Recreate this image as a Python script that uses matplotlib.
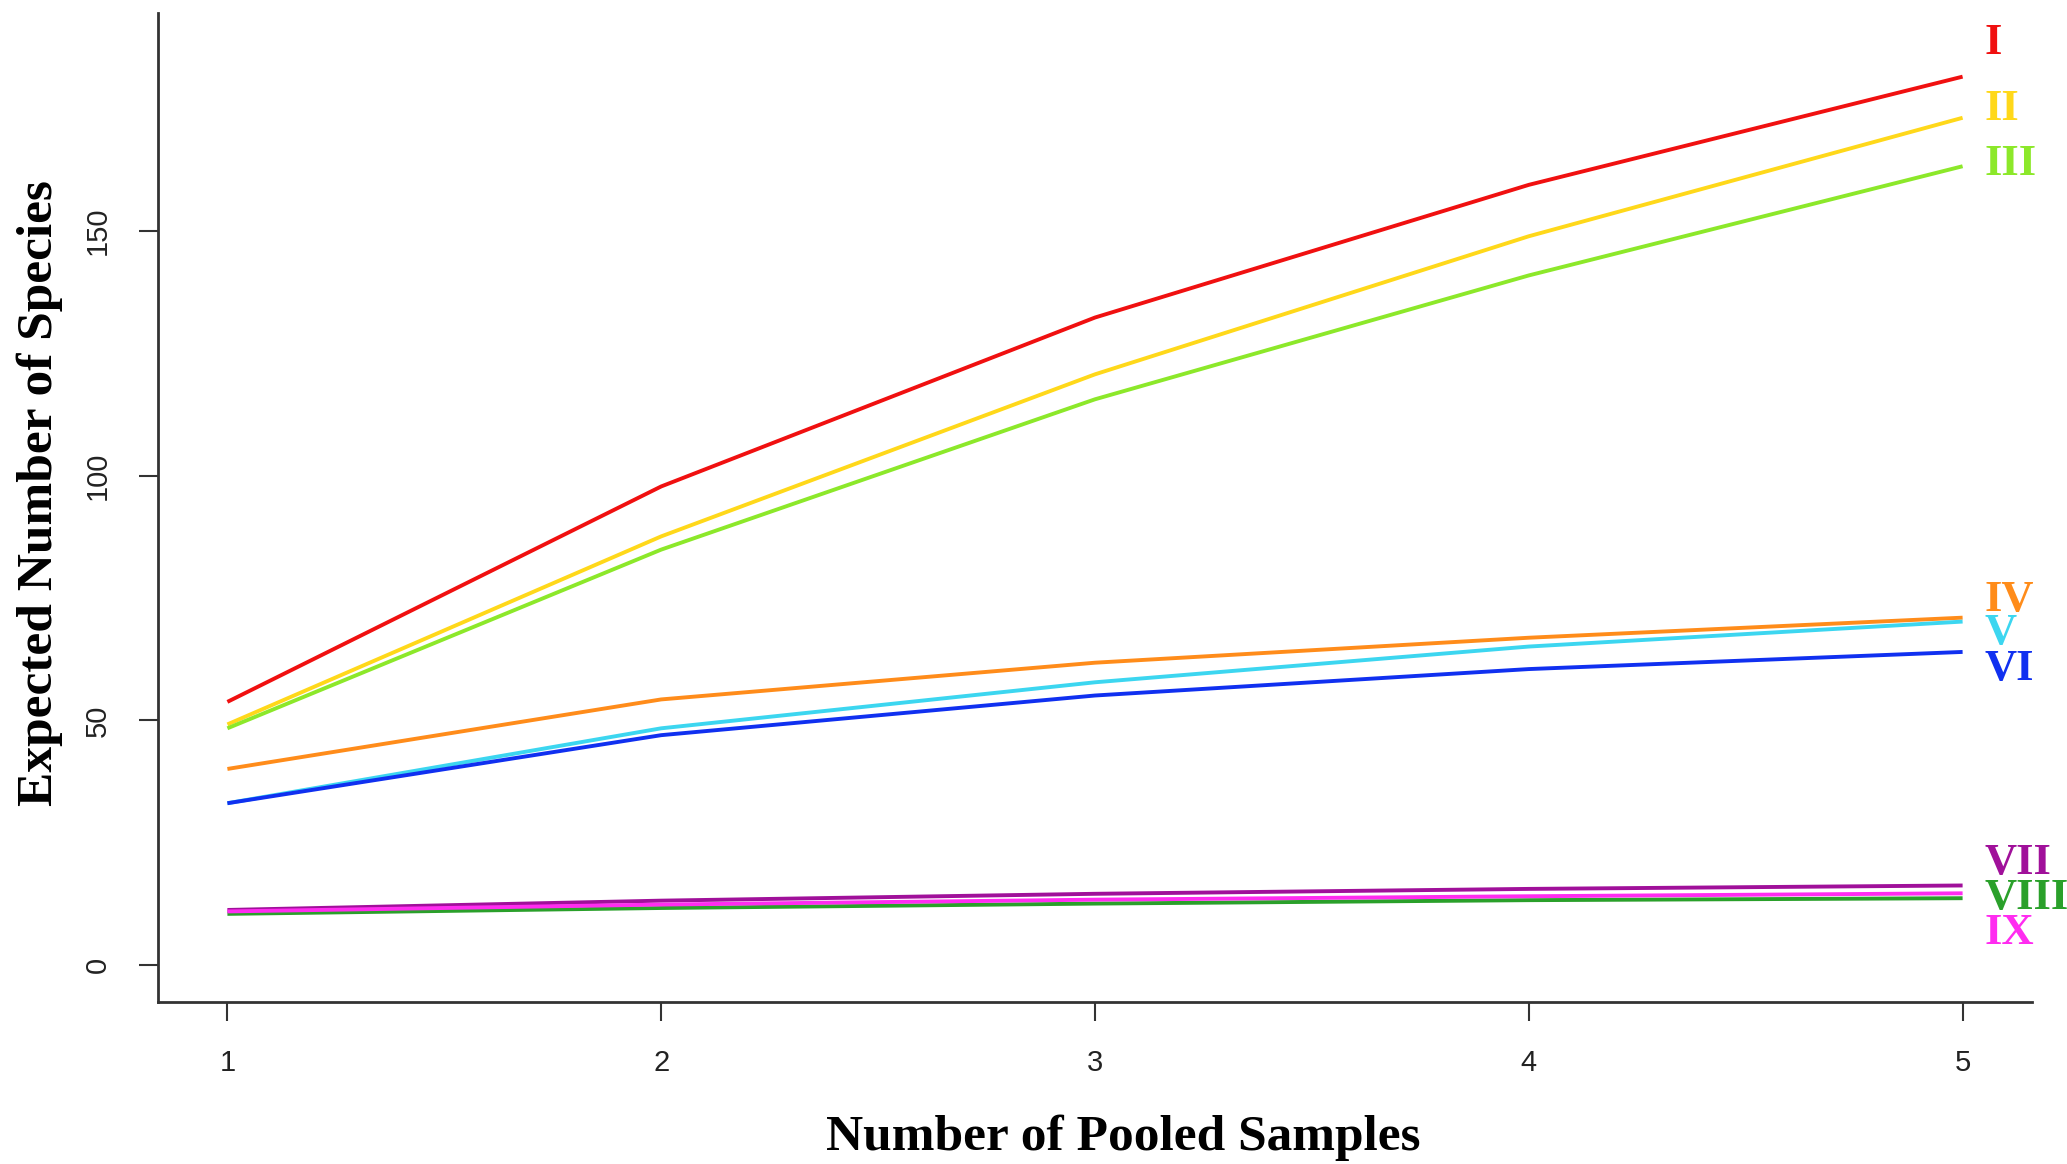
import matplotlib
matplotlib.use("Agg")
import matplotlib.pyplot as plt

pooled = [1, 2, 3, 4, 5]

names = ["I", "II", "III", "IV", "V", "VI", "VII", "VIII", "IX"]
colors = ["#f01010", "#ffd81a", "#8ce82a", "#ff8c1a", "#3cd6f0",
          "#1030f0", "#a0109a", "#2aa02a", "#ff2cf0"]

s_I = [53.8, 97.8, 132.3, 159.4, 181.5]
s_II = [49.2, 87.6, 120.7, 148.9, 173.1]
s_III = [48.4, 84.9, 115.6, 140.9, 163.2]
s_IV = [40.1, 54.3, 61.8, 66.9, 71.0]
s_V = [33.1, 48.4, 57.8, 65.1, 70.2]
s_VI = [33.1, 47.0, 55.1, 60.5, 64.0]
s_VII = [11.3, 13.2, 14.6, 15.6, 16.3]
s_VIII = [10.5, 11.7, 12.6, 13.3, 13.7]
s_IX = [11.0, 12.4, 13.4, 14.1, 14.7]
series = [s_I, s_II, s_III, s_IV, s_V, s_VI, s_VII, s_VIII, s_IX]

# where the roman numerals sit on the right
label_y = [188.3, 174.9, 163.6, 74.6, 67.9, 60.5, 20.8, 13.7, 6.5]

fig = plt.figure(figsize=(20.67, 11.64), dpi=100)
ax = fig.add_axes([158 / 2067, 1 - 1002 / 1164, (2032 - 158) / 2067, (1002 - 13) / 1164])

for ys, color in zip(series, colors):
    ax.plot(pooled, ys, color=color, lw=2.8, solid_capstyle="butt")

for name, ly, color in zip(names, label_y, colors):
    ax.text(5.05, ly, name, color=color, fontsize=32, fontweight="bold",
            family="Liberation Serif", ha="left", va="center", clip_on=False)

ax.set_xlim(0.84, 5.16)
ax.set_ylim(-7.5, 194.5)
ax.set_xticks(pooled)
ax.set_yticks([0, 50, 100, 150])

for side in ["top", "right"]:
    ax.spines[side].set_visible(False)
for side in ["left", "bottom"]:
    ax.spines[side].set_linewidth(2)
    ax.spines[side].set_color("#333333")

ax.tick_params(axis="both", length=14, width=1.5, color="#333333",
               labelsize=21, labelcolor="#222222", labelfontfamily="Liberation Sans")
ax.tick_params(axis="x", pad=20)
ax.tick_params(axis="y", pad=19)
plt.setp(ax.get_yticklabels(), rotation=90, va="center")

fig.text(1123 / 2067, 0.012, "Number of Pooled Samples", fontsize=37,
         fontweight="bold", family="Liberation Serif", ha="center", va="baseline")
fig.text(40 / 2067, 0.576, "Expected Number of Species", fontsize=37,
         fontweight="bold", family="Liberation Serif", ha="center", va="center",
         rotation=90)

fig.savefig("out.png", dpi=100)
